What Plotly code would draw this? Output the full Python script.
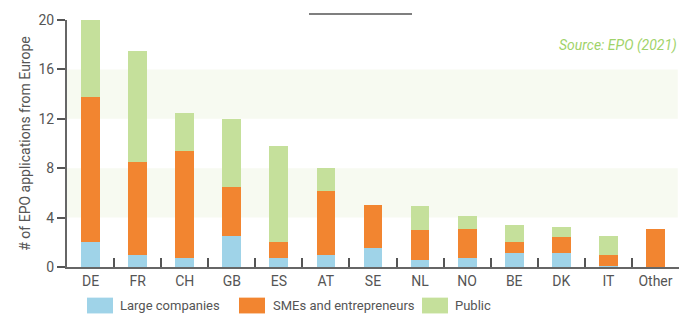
import plotly.graph_objects as go

countries = ["DE", "FR", "CH", "GB", "ES", "AT", "SE", "NL", "NO", "BE", "DK", "IT", "Other"]
large = [2.0, 1.0, 0.75, 2.5, 0.75, 1.0, 1.5, 0.6, 0.75, 1.1, 1.1, 0.05, 0.0]
smes = [11.75, 7.5, 8.65, 4.0, 1.3, 5.15, 3.5, 2.4, 2.35, 0.95, 1.35, 0.95, 3.1]
public = [6.25, 9.0, 3.1, 5.5, 7.75, 1.85, 0.0, 1.9, 1.0, 1.35, 0.8, 1.5, 0.0]
y_ticks = [0, 4, 8, 12, 16, 20]
bands = [(4, 8), (12, 16)]
series_names = ["Large companies", "SMEs and entrepreneurs", "Public"]
colors = ["#9fd3e8", "#f28530", "#c5e09b"]

FONT = "Roboto, Lato, sans-serif"
W, H = 694, 314
L, R, T, B = 67, 15, 17, 47
pw = W - L - R
ph = H - T - B

def px_x(px):
    return (px - L) / pw

def px_y(py):
    return (H - B - py) / ph

fig = go.Figure()
for name, vals, col in zip(series_names, [large, smes, public], colors):
    fig.add_trace(go.Bar(x=countries, y=vals, name=name, marker=dict(color=col, line=dict(width=0)),
                         width=0.4, showlegend=False))

shapes = []
for lo, hi in bands:
    shapes.append(dict(type="rect", xref="paper", yref="y", x0=0, x1=0.998, y0=lo, y1=hi,
                       fillcolor="#f7faf1", line=dict(width=0), layer="below"))
# title underline
shapes.append(dict(type="line", xref="paper", yref="paper", x0=px_x(309), x1=px_x(412),
                   y0=px_y(11), y1=px_y(11), line=dict(color="#555555", width=1.5)))

annotations = [dict(text="<i>Source: EPO (2021)</i>", xref="paper", yref="paper", x=1.0, y=px_y(43),
                    xanchor="right", yanchor="middle", showarrow=False,
                    font=dict(family=FONT, size=14, color="#9fd36a"))]

# legend swatches
legend_pos = [(87, 118), (239, 271), (422, 453)]
for (sx, tx), name, col in zip(legend_pos, series_names, colors):
    shapes.append(dict(type="rect", xref="paper", yref="paper", x0=px_x(sx), x1=px_x(sx + 26),
                       y0=px_y(298), y1=px_y(314), fillcolor=col, line=dict(width=0)))
    annotations.append(dict(text=name, xref="paper", yref="paper", x=px_x(tx), y=px_y(306),
                            xanchor="left", yanchor="middle", showarrow=False,
                            font=dict(family=FONT, size=13, color="#555555")))

fig.update_layout(
    barmode="stack",
    width=W, height=H,
    margin=dict(l=L, r=R, t=T, b=B),
    plot_bgcolor="white", paper_bgcolor="white",
    font=dict(family=FONT, color="#555555"),
    shapes=shapes,
    annotations=annotations,
    showlegend=False,
)
fig.update_xaxes(
    type="category", tickson="boundaries", ticks="inside", ticklen=9, tickwidth=1.5,
    tickcolor="#555555", showline=True, linecolor="#666666", linewidth=2,
    showgrid=False, tickfont=dict(family=FONT, size=14, color="#555555"),
)
fig.update_yaxes(
    range=[0, 20], tickvals=y_ticks, ticks="outside", ticklen=8, tickwidth=1.5,
    tickcolor="#555555", showline=True, linecolor="#666666", linewidth=2,
    showgrid=False, zeroline=False, tickfont=dict(family=FONT, size=14, color="#555555"),
    title=dict(text="# of EPO applications from Europe", font=dict(family=FONT, size=14, color="#555555"),
               standoff=5),
)

fig.write_html("out.html",
               config={"displayModeBar": False},
               post_script="document.body.style.margin='0';document.body.style.padding='0';document.body.style.overflow='hidden';")
